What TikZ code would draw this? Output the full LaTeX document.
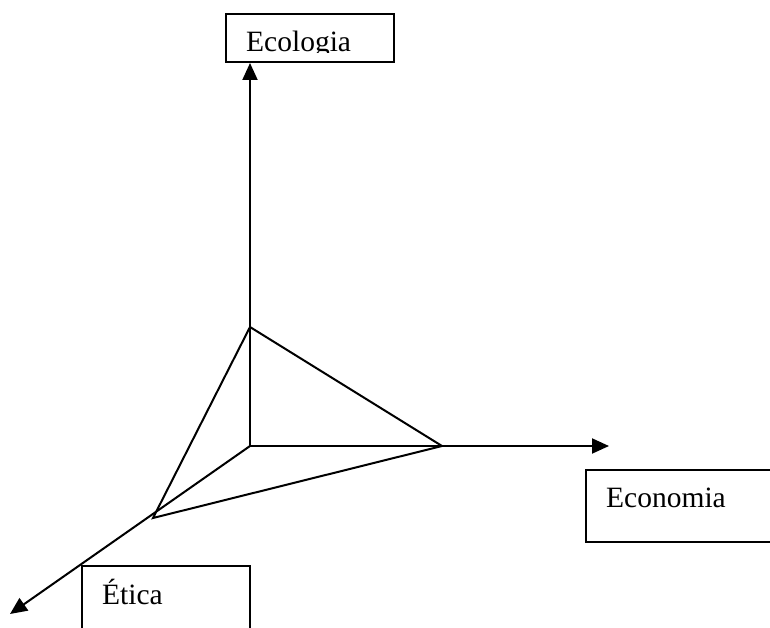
\documentclass[tikz,border=0pt]{standalone}
\usepackage{fontspec}
\setmainfont{Liberation Serif}
\usetikzlibrary{arrows.meta}
\begin{document}
\begin{tikzpicture}[x=1pt,y=-1pt,
  lbl/.style={anchor=base west, inner sep=0pt, font=\fontsize{29.5}{34}\selectfont},
  box/.style={draw, line width=2pt, inner sep=0pt},
  axis/.style={line width=2pt, -{Triangle[length=17pt,width=15pt]}},
  edge/.style={line width=2pt, line join=miter}]
\useasboundingbox (0,0) rectangle (770,628);
\clip (0,0) rectangle (770,628);
% boxes
\node[box, minimum width=168pt, minimum height=48pt] (ecobox) at (310,38) {};
\node[box, minimum width=214pt, minimum height=72pt] (econbox) at (693,506) {};
\node[box, minimum width=168pt, minimum height=94pt] (etibox) at (166,613) {};
% labels
\begin{scope}
\clip (226,14) rectangle (394,52.5);
\node[lbl] (ecolt) at (246,52) {Ecologia};
\end{scope}
\node[lbl] (econt) at (606,507) {Economia};
\node[lbl] (etit) at (102,604) {Ética};
% axes
\coordinate (O) at (250,446);
\coordinate (Xtip) at (609,446);
\coordinate (Dtip) at (10,614);
\draw[axis] (O) -- (O |- ecobox.south);
\draw[axis] (O) -- (Xtip);
\draw[axis] (O) -- (Dtip);
% triangle
\coordinate (T) at (250,327);
\coordinate (R) at (442,446);
\coordinate (L) at (153,518);
\draw[edge] (T) -- (R) -- (L) -- cycle;
\end{tikzpicture}
\end{document}
